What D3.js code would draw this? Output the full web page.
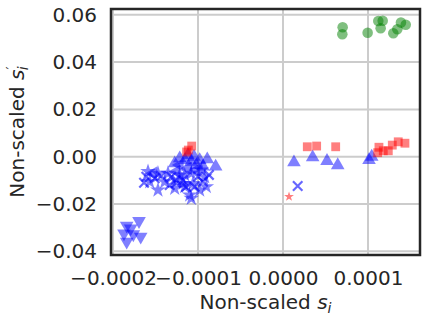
<!DOCTYPE html>
<html>
<head>
<meta charset="utf-8">
<script src="https://cdnjs.cloudflare.com/ajax/libs/d3/7.8.5/d3.min.js"></script>
<style>
  body { margin: 0; background: #fff; }
  text { font-family: "DejaVu Sans", sans-serif; fill: #262626; }
</style>
</head>
<body>
<div id="chart"></div>
<script>
// tick values
var xTicks = [-0.0002, -0.0001, 0.0000, 0.0001];
var yTicks = [-0.04, -0.02, 0.00, 0.02, 0.04, 0.06];

// green circles
var greenCircles = [
  [0.702e-4, 0.0547], [0.698e-4, 0.0518], [0.996e-4, 0.0524], [1.121e-4, 0.0574],
  [1.173e-4, 0.0575], [1.149e-4, 0.0543], [1.298e-4, 0.0522], [1.345e-4, 0.0539],
  [1.388e-4, 0.0567], [1.444e-4, 0.0558]
];

// red squares
var redSquares = [
  [-1.074e-4, 0.0045], [-1.114e-4, 0.0028], [-1.134e-4, 0.0020],
  [0.286e-4, 0.0042], [0.396e-4, 0.0045], [0.620e-4, 0.0042],
  [1.129e-4, 0.0040], [1.114e-4, 0.0017], [1.180e-4, 0.0025], [1.239e-4, 0.0025],
  [1.286e-4, 0.0049], [1.356e-4, 0.0063], [1.435e-4, 0.0057]
];

// red stars
var redStars = [[0.071e-4, -0.0169]];

// blue triangles pointing up
var blueTriUp = [
  [-1.274e-4, -0.0028], [-1.215e-4, -0.0007], [-1.153e-4, -0.0014], [-1.118e-4, 0.0007],
  [-1.047e-4, 0.0000], [-1.020e-4, -0.0035], [-0.941e-4, -0.0042], [-0.891e-4, -0.0011],
  [-0.792e-4, -0.0042], [-0.980e-4, -0.0014], [-1.082e-4, -0.0022],
  [0.129e-4, -0.0024], [0.349e-4, -0.0003], [0.518e-4, -0.0018], [0.644e-4, -0.0036],
  [1.012e-4, -0.0014], [1.044e-4, 0.0000]
];

// blue triangles pointing down
var blueTriDown = [
  [-1.694e-4, -0.0272], [-1.839e-4, -0.0292], [-1.792e-4, -0.0303], [-1.871e-4, -0.0324],
  [-1.761e-4, -0.0328], [-1.674e-4, -0.0338], [-1.839e-4, -0.0359]
];

// blue triangles pointing left
var blueTriLeft = [
  [-1.118e-4, -0.0049], [-1.020e-4, -0.0056], [-1.215e-4, -0.0035], [-1.529e-4, -0.0070],
  [-1.255e-4, -0.0063]
];

// blue stars
var blueStars = [
  [-1.588e-4, -0.0063], [-1.568e-4, -0.0106], [-1.471e-4, -0.0070], [-1.471e-4, -0.0141],
  [-1.392e-4, -0.0106], [-1.274e-4, -0.0134], [-1.215e-4, -0.0077], [-1.156e-4, -0.0127],
  [-1.098e-4, -0.0162], [-1.079e-4, -0.0176], [-0.980e-4, -0.0141], [-0.921e-4, -0.0085],
  [-1.079e-4, -0.0070], [-0.961e-4, -0.0056], [-1.156e-4, -0.0077], [-1.353e-4, -0.0070],
  [-1.176e-4, -0.0113], [-1.059e-4, -0.0113], [-0.902e-4, -0.0127]
];

// blue crosses
var blueX = [
  [-1.635e-4, -0.0110], [-1.509e-4, -0.0091], [-1.432e-4, -0.0082], [-1.333e-4, -0.0120],
  [-1.255e-4, -0.0099], [-1.176e-4, -0.0099], [-1.039e-4, -0.0127], [-0.941e-4, -0.0106],
  [-1.000e-4, -0.0085], [-1.608e-4, -0.0085], [-1.314e-4, -0.0085], [-1.140e-4, -0.0128],
  [-1.259e-4, -0.0111], [-0.871e-4, -0.0077],
  [0.173e-4, -0.0124]
];

var W = 427, H = 321;
var margin = {top: 9, right: 7, bottom: 66, left: 111},
    width = W - margin.left - margin.right,
    height = H - margin.top - margin.bottom;

var svg = d3.select("#chart").append("svg")
    .attr("width", W)
    .attr("height", H);

var g = svg.append("g")
    .attr("transform", "translate(" + margin.left + "," + margin.top + ")");

var x = d3.scaleLinear().domain([-2.0235e-4, 1.612e-4]).range([0, width]);
var y = d3.scaleLinear().domain([-0.04156, 0.06245]).range([height, 0]);

// grid lines
g.selectAll(".xgrid").data(xTicks).enter().append("line")
    .attr("x1", function(d){ return x(d); })
    .attr("x2", function(d){ return x(d); })
    .attr("y1", 0).attr("y2", height)
    .attr("stroke", "#cccccc").attr("stroke-width", 2);

g.selectAll(".ygrid").data(yTicks).enter().append("line")
    .attr("y1", function(d){ return y(d); })
    .attr("y2", function(d){ return y(d); })
    .attr("x1", 0).attr("x2", width)
    .attr("stroke", "#cccccc").attr("stroke-width", 2);

// markers
function drawMarks(data, type, size, color, rot, stroke) {
  var sym = d3.symbol().type(type).size(size);
  g.append("g").selectAll("path").data(data).enter().append("path")
      .attr("d", sym)
      .attr("transform", function(d){
        return "translate(" + x(d[0]) + "," + y(d[1]) + ") rotate(" + rot + ")";
      })
      .attr("fill", stroke ? "none" : color)
      .attr("fill-opacity", 0.5)
      .attr("stroke", stroke ? color : "none")
      .attr("stroke-width", stroke ? 2.2 : 0)
      .attr("stroke-opacity", 0.6);
}

drawMarks(blueStars, d3.symbolStar, 75, "#0000ff", 0, false);
drawMarks(blueX, d3.symbolTimes, 60, "#0000ff", 0, true);
drawMarks(blueTriLeft, d3.symbolTriangle, 80, "#0000ff", -90, false);
drawMarks(blueTriUp, d3.symbolTriangle, 80, "#0000ff", 0, false);
drawMarks(blueTriDown, d3.symbolTriangle, 80, "#0000ff", 180, false);
drawMarks(redSquares, d3.symbolSquare, 78, "#ff0000", 0, false);
drawMarks(redStars, d3.symbolStar, 30, "#ff0000", 0, false);
drawMarks(greenCircles, d3.symbolCircle, 88, "#008000", 0, false);

// frame
g.append("rect")
    .attr("x", 0).attr("y", 0)
    .attr("width", width).attr("height", height)
    .attr("fill", "none")
    .attr("stroke", "#262626")
    .attr("stroke-width", 2.5);

// axes (labels only, no tick marks)
var xAxis = d3.axisBottom(x).tickValues(xTicks).tickSize(0).tickPadding(16)
    .tickFormat(d3.format(".4f"));
var gx = g.append("g")
    .attr("transform", "translate(0," + height + ")")
    .call(xAxis);
gx.select(".domain").remove();
gx.selectAll("text").style("font-size", "20px").attr("fill", "#262626");

var yAxis = d3.axisLeft(y).tickValues(yTicks).tickSize(0).tickPadding(14)
    .tickFormat(d3.format(".2f"));
var gy = g.append("g").call(yAxis);
gy.select(".domain").remove();
gy.selectAll("text").style("font-size", "20px").attr("fill", "#262626");

// axis titles
var xl = svg.append("text")
    .attr("x", margin.left + width / 2)
    .attr("y", 309)
    .attr("text-anchor", "middle")
    .style("font-size", "20px");
xl.append("tspan").text("Non-scaled ");
xl.append("tspan").style("font-style", "italic").text("s");
xl.append("tspan").style("font-style", "italic").style("font-size", "14px")
    .attr("dy", 4).text("i");

var yl = svg.append("text")
    .attr("transform", "translate(24," + (margin.top + height / 2) + ") rotate(-90)")
    .attr("text-anchor", "middle")
    .style("font-size", "20px");
yl.append("tspan").text("Non-scaled ");
yl.append("tspan").style("font-style", "italic").text("s");
yl.append("tspan").style("font-size", "14px").attr("dy", -8).text("\u2032");
yl.append("tspan").style("font-style", "italic").style("font-size", "14px")
    .attr("dx", -4).attr("dy", 12).text("i");
</script>
</body>
</html>
